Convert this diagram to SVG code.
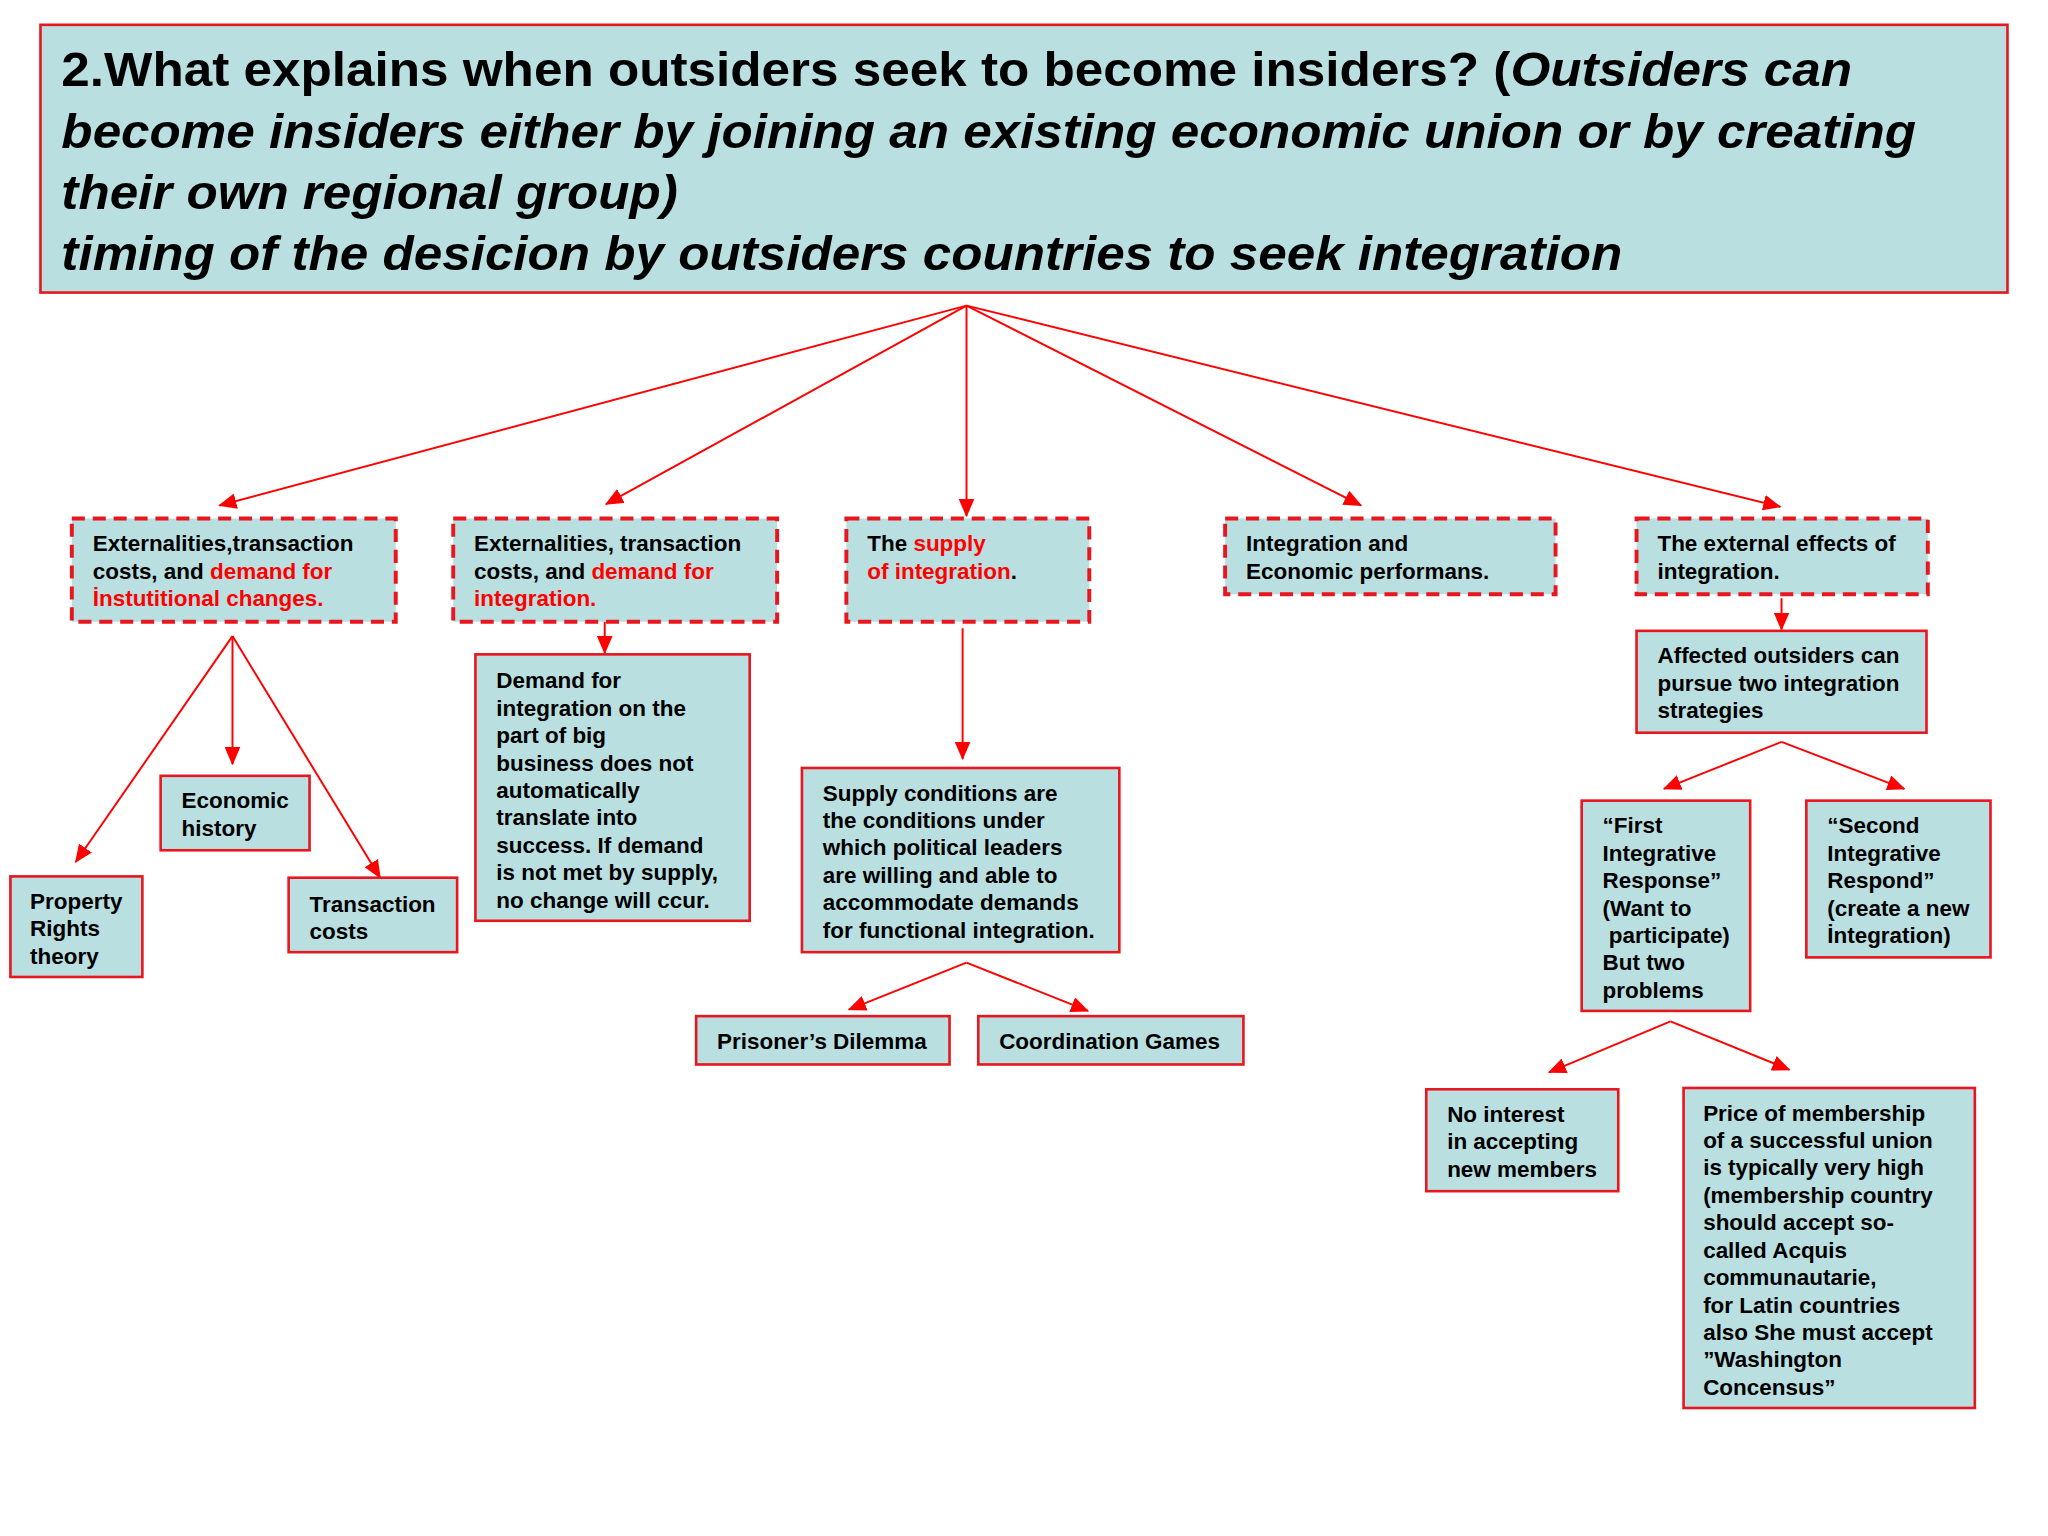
<svg xmlns="http://www.w3.org/2000/svg" width="2048" height="1536" viewBox="0 0 2048 1536">
<defs>
<marker id="ah" markerWidth="14" markerHeight="12" refX="13" refY="6" orient="auto" markerUnits="userSpaceOnUse"><path d="M0,0 L14,6 L0,12 z" fill="#f00"/></marker>
<style>
.bx{fill:#b9dfe1;stroke:#e8161e;stroke-width:2}
.dx{fill:#b9dfe1;stroke:#e8161e;stroke-width:3;stroke-dasharray:10 6}
text{font-family:"Liberation Sans",Arial,sans-serif;font-weight:bold;font-size:17.2px;fill:#000}
.r{fill:#f00}
.t{font-size:37px}
.i{font-style:italic}
.c line{stroke:#f00;stroke-width:1.5;fill:none;marker-end:url(#ah)}
</style>
</defs>
<rect width="2048" height="1536" fill="#fff"/>
<g transform="scale(1.3061)">
<g id="title"><rect x="31" y="19" width="1506" height="205" fill="#b9dfe1" stroke="#e8161e" stroke-width="2"/>
<text class="t" x="47" y="66" textLength="1371" lengthAdjust="spacingAndGlyphs">2.What explains when outsiders seek to become insiders? (<tspan class="i">Outsiders can</tspan></text>
<text class="t i" x="47" y="113" textLength="1420" lengthAdjust="spacingAndGlyphs">become insiders either by joining an existing economic union or by creating</text>
<text class="t i" x="47" y="160" textLength="472" lengthAdjust="spacingAndGlyphs">their own regional group)</text>
<text class="t i" x="47" y="207" textLength="1195" lengthAdjust="spacingAndGlyphs">timing of the desicion by outsiders countries to seek integration</text></g>
<g id="connectors" class="c">
<line x1="740" y1="234" x2="168" y2="387"/>
<line x1="740" y1="234" x2="464" y2="386"/>
<line x1="740" y1="234" x2="740" y2="395"/>
<line x1="740" y1="234" x2="1042" y2="387"/>
<line x1="740" y1="234" x2="1363" y2="388"/>
<line x1="178" y1="487" x2="58" y2="660"/>
<line x1="178" y1="487" x2="178" y2="585"/>
<line x1="178" y1="487" x2="291" y2="672"/>
<line x1="463" y1="476" x2="463" y2="500"/>
<line x1="737" y1="481" x2="737" y2="581"/>
<line x1="740" y1="737" x2="650" y2="773"/>
<line x1="740" y1="737" x2="833" y2="774"/>
<line x1="1364" y1="458" x2="1364" y2="482"/>
<line x1="1364" y1="568" x2="1274" y2="604"/>
<line x1="1364" y1="568" x2="1458" y2="604"/>
<line x1="1279" y1="782" x2="1186" y2="821"/>
<line x1="1279" y1="782" x2="1370" y2="819"/>
</g>
<g id="b1"><rect class="dx" x="55" y="397" width="248" height="79"/>
<text x="71" y="422">Externalities,transaction</text><text x="71" y="443">costs, and <tspan class="r">demand for</tspan></text><text x="71" y="464" class="r">İnstutitional changes.</text></g>
<g id="b2"><rect class="dx" x="347" y="397" width="248" height="79"/>
<text x="363" y="422">Externalities, transaction</text><text x="363" y="443">costs, and <tspan class="r">demand for</tspan></text><text x="363" y="464" class="r">integration.</text></g>
<g id="b3"><rect class="dx" x="648" y="397" width="186" height="79"/>
<text x="664" y="422">The <tspan class="r">supply</tspan></text><text x="664" y="443"><tspan class="r">of integration</tspan>.</text></g>
<g id="b4"><rect class="dx" x="938" y="397" width="253" height="58"/>
<text x="954" y="422">Integration and</text><text x="954" y="443">Economic performans.</text></g>
<g id="b5"><rect class="dx" x="1253" y="397" width="223" height="58"/>
<text x="1269" y="422">The external effects of</text><text x="1269" y="443">integration.</text></g>
<g id="econ"><rect class="bx" x="123" y="594" width="114" height="57"/>
<text x="139" y="619">Economic</text><text x="139" y="640">history</text></g>
<g id="prop"><rect class="bx" x="8" y="671" width="101" height="77"/>
<text x="23" y="696">Property</text><text x="23" y="717">Rights</text><text x="23" y="738">theory</text></g>
<g id="trans"><rect class="bx" x="221" y="672" width="129" height="57"/>
<text x="237" y="698">Transaction</text><text x="237" y="719">costs</text></g>
<g id="demand"><rect class="bx" x="364" y="501" width="210" height="204"/>
<text x="380" y="527">Demand for</text><text x="380" y="548">integration on the</text><text x="380" y="569">part of big</text><text x="380" y="590">business does not</text><text x="380" y="611">automatically</text><text x="380" y="632">translate into</text><text x="380" y="653">success. If demand</text><text x="380" y="674">is not met by supply,</text><text x="380" y="695">no change will ccur.</text></g>
<g id="supply"><rect class="bx" x="614" y="588" width="243" height="141"/>
<text x="630" y="613">Supply conditions are</text><text x="630" y="634">the conditions under</text><text x="630" y="655">which political leaders</text><text x="630" y="676">are willing and able to</text><text x="630" y="697">accommodate demands</text><text x="630" y="718">for functional integration.</text></g>
<g id="pd"><rect class="bx" x="533" y="778" width="194" height="37"/><text x="549" y="803">Prisoner’s Dilemma</text></g>
<g id="cg"><rect class="bx" x="749" y="778" width="203" height="37"/><text x="765" y="803">Coordination Games</text></g>
<g id="affected"><rect class="bx" x="1253" y="483" width="222" height="78"/>
<text x="1269" y="508">Affected outsiders can</text><text x="1269" y="529">pursue two integration</text><text x="1269" y="550">strategies</text></g>
<g id="first"><rect class="bx" x="1211" y="613" width="129" height="161"/>
<text x="1227" y="638">“First</text><text x="1227" y="659">Integrative</text><text x="1227" y="680">Response”</text><text x="1227" y="701">(Want to</text><text x="1227" y="722" xml:space="preserve"> participate)</text><text x="1227" y="743">But two</text><text x="1227" y="764">problems</text></g>
<g id="second"><rect class="bx" x="1383" y="613" width="141" height="120"/>
<text x="1399" y="638">“Second</text><text x="1399" y="659">Integrative</text><text x="1399" y="680">Respond”</text><text x="1399" y="701">(create a new</text><text x="1399" y="722">İntegration)</text></g>
<g id="nointerest"><rect class="bx" x="1092" y="834" width="147" height="78"/>
<text x="1108" y="859">No interest</text><text x="1108" y="880">in accepting</text><text x="1108" y="901">new members</text></g>
<g id="price"><rect class="bx" x="1289" y="833" width="223" height="245"/>
<text x="1304" y="858">Price of membership</text><text x="1304" y="879">of a successful union</text><text x="1304" y="900">is typically very high</text><text x="1304" y="921">(membership country</text><text x="1304" y="942">should accept so-</text><text x="1304" y="963">called Acquis</text><text x="1304" y="984">communautarie,</text><text x="1304" y="1005">for Latin countries</text><text x="1304" y="1026">also She must accept</text><text x="1304" y="1047">”Washington</text><text x="1304" y="1068">Concensus”</text></g>
</g>
</svg>
